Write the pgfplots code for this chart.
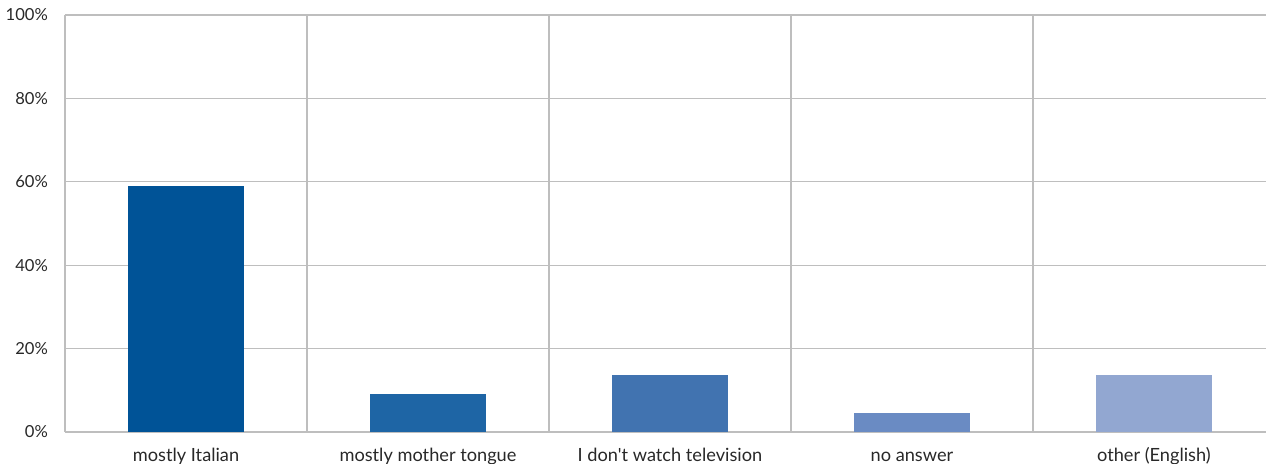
\documentclass[border=0pt]{standalone}
\usepackage{pgfplots}
\pgfplotsset{compat=1.18}
\usepackage{fontspec}
\setmainfont{Lato}[Ligatures=TeXOff]

\definecolor{gridgray}{RGB}{190,190,190}
\definecolor{labelgray}{RGB}{40,40,40}
\definecolor{cA}{RGB}{0,83,151}
\definecolor{cB}{RGB}{30,101,165}
\definecolor{cC}{RGB}{65,115,176}
\definecolor{cD}{RGB}{106,139,195}
\definecolor{cE}{RGB}{146,167,209}

\begin{document}
\begin{tikzpicture}
\useasboundingbox (-32.5pt,-15.5pt) rectangle (600.5pt,216pt);
\begin{axis}[
  scale only axis,
  width=600.5pt, height=208.5pt,
  xmin=0.5, xmax=5.463,
  ymin=0, ymax=100,
  ybar, bar shift=0pt, bar width=58pt,
  axis x line*=bottom, axis y line*=left,
  axis line style={gridgray, line width=0.6pt},
  ytick={0,20,...,100},
  yticklabel={\pgfmathprintnumber{\tick}\%},
  ymajorgrids, major grid style={gridgray, line width=0.6pt},
  xtick={1,2,3,4,5},
  xticklabels={mostly Italian, mostly mother tongue, I don't watch television, no answer, other (English)},
  minor xtick={1.5,2.5,3.5,4.5},
  xminorgrids, minor grid style={gridgray, line width=0.6pt},
  major tick length=0pt, minor tick length=0pt,
  yticklabel style={font=\fontsize{8.3}{10}\selectfont, text=labelgray, xshift=-5pt},
  xticklabel style={font=\fontsize{9.1}{11}\selectfont, text=labelgray,
    anchor=base, yshift=-14.5pt},
  /pgf/number format/assume math mode=true,
  clip=false,
]
\addplot[fill=cA, draw=none] coordinates {(1,59.1)};
\addplot[fill=cB, draw=none] coordinates {(2,9.1)};
\addplot[fill=cC, draw=none] coordinates {(3,13.6)};
\addplot[fill=cD, draw=none] coordinates {(4,4.5)};
\addplot[fill=cE, draw=none] coordinates {(5,13.6)};
\end{axis}
\end{tikzpicture}
\end{document}
